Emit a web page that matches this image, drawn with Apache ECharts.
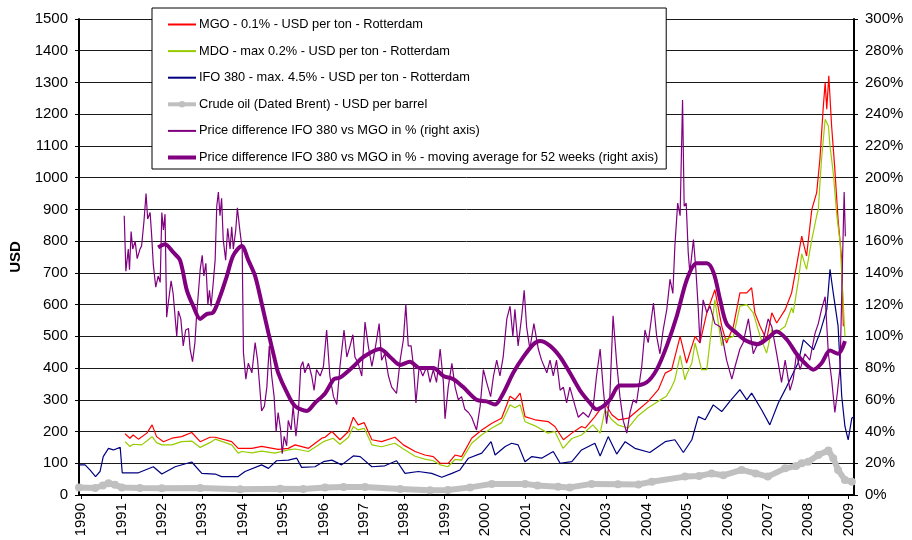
<!DOCTYPE html>
<html>
<head>
<meta charset="utf-8">
<script src="https://cdn.jsdelivr.net/npm/echarts@6/dist/echarts.min.js"></script>
<style>
  html, body { margin: 0; padding: 0; background: #fff; }
  #chart { width: 912px; height: 540px; }
</style>
</head>
<body>
<div id="chart"></div>
<script>
// year ticks on the x axis
const yearTicks = [1990, 1991, 1992, 1993, 1994, 1995, 1996, 1997, 1998, 1999,
  2000, 2001, 2002, 2003, 2004, 2005, 2006, 2007, 2008, 2009]

// MGO - 0.1% - USD per ton
const mgoYears = [1991.09, 1991.21, 1991.29, 1991.42, 1991.63, 1991.76, 1991.87, 1992.04, 1992.25, 1992.49,
  1992.74, 1992.95, 1993.19, 1993.32, 1993.73, 1993.89, 1994.23, 1994.47, 1994.88, 1995.13,
  1995.30, 1995.63, 1995.96, 1996.04, 1996.21, 1996.41, 1996.62, 1996.74, 1996.86, 1997.01,
  1997.20, 1997.44, 1997.77, 1997.98, 1998.27, 1998.51, 1998.72, 1998.89, 1999.09, 1999.26,
  1999.42, 1999.67, 1999.92, 2000.17, 2000.41, 2000.62, 2000.74, 2000.87, 2000.99, 2001.24,
  2001.57, 2001.73, 2001.94, 2002.15, 2002.39, 2002.48, 2002.72, 2002.97, 2003.14, 2003.30,
  2003.55, 2003.79, 2004.04, 2004.29, 2004.46, 2004.62, 2004.83, 2004.99, 2005.20, 2005.32,
  2005.49, 2005.69, 2005.86, 2005.98, 2006.15, 2006.31, 2006.48, 2006.60, 2006.68, 2006.81,
  2006.97, 2007.10, 2007.22, 2007.43, 2007.59, 2007.71, 2007.84, 2007.96, 2008.09, 2008.21,
  2008.29, 2008.37, 2008.42, 2008.46, 2008.51, 2008.58, 2008.66, 2008.74, 2008.83, 2008.87]
const mgoValues = [193, 179, 189, 176, 195, 221, 184, 168, 179, 184,
  197, 168, 182, 182, 168, 147, 147, 153, 144, 147,
  158, 147, 179, 182, 200, 174, 200, 245, 221, 228,
  174, 168, 182, 158, 137, 126, 121, 100, 100, 126,
  121, 179, 205, 226, 242, 311, 300, 321, 247, 237,
  231, 216, 174, 195, 216, 211, 247, 290, 253, 237,
  242, 268, 295, 332, 384, 395, 500, 416, 500, 479,
  574, 647, 532, 479, 532, 637, 637, 653, 574, 532,
  489, 574, 542, 584, 637, 721, 816, 753, 900, 953,
  1058, 1216, 1300, 1216, 1321, 1163, 1026, 868, 742, 532]

// MDO - max 0.2% - USD per ton
const mdoYears = [1991.09, 1991.21, 1991.29, 1991.50, 1991.63, 1991.76, 1991.87, 1992.00, 1992.25, 1992.49,
  1992.74, 1992.95, 1993.19, 1993.32, 1993.73, 1993.89, 1993.98, 1994.23, 1994.47, 1994.80,
  1995.13, 1995.30, 1995.63, 1996.00, 1996.24, 1996.41, 1996.62, 1996.74, 1996.86, 1997.01,
  1997.20, 1997.44, 1997.77, 1997.98, 1998.27, 1998.51, 1998.72, 1998.89, 1999.08, 1999.26,
  1999.42, 1999.67, 1999.92, 2000.17, 2000.41, 2000.62, 2000.74, 2000.87, 2000.99, 2001.24,
  2001.56, 2001.73, 2001.93, 2002.15, 2002.39, 2002.67, 2002.85, 2002.97, 2003.14, 2003.30,
  2003.54, 2003.79, 2004.03, 2004.28, 2004.49, 2004.62, 2004.70, 2004.83, 2004.95, 2004.99,
  2005.12, 2005.20, 2005.36, 2005.49, 2005.69, 2005.86, 2005.90, 2006.15, 2006.31, 2006.48,
  2006.64, 2006.81, 2006.97, 2007.10, 2007.22, 2007.43, 2007.59, 2007.63, 2007.76, 2007.84,
  2007.96, 2008.09, 2008.21, 2008.25, 2008.33, 2008.42, 2008.50, 2008.54, 2008.62, 2008.71,
  2008.79, 2008.91]
const mdoValues = [168, 153, 160, 158, 170, 184, 165, 158, 158, 168,
  170, 150, 165, 176, 158, 132, 137, 133, 138, 132,
  142, 145, 137, 168, 179, 160, 182, 216, 205, 210,
  158, 152, 163, 145, 122, 113, 108, 95, 89, 112,
  110, 163, 190, 211, 228, 284, 275, 284, 231, 218,
  195, 200, 147, 178, 189, 221, 195, 268, 237, 220,
  211, 250, 274, 295, 311, 340, 363, 440, 363, 380,
  416, 479, 395, 395, 616, 470, 489, 500, 595, 600,
  574, 500, 447, 520, 511, 532, 590, 574, 679, 760,
  711, 805, 880, 900, 1058, 1184, 1163, 1100, 1016, 879,
  795, 500]

// IFO 380 - max. 4.5% - USD per ton
const ifoYears = [1989.95, 1990.10, 1990.22, 1990.36, 1990.47, 1990.55, 1990.68, 1990.80, 1990.97, 1991.02,
  1991.42, 1991.79, 1992.00, 1992.33, 1992.74, 1992.99, 1993.32, 1993.48, 1993.89, 1994.06,
  1994.47, 1994.64, 1994.84, 1995.13, 1995.34, 1995.46, 1995.79, 1996.00, 1996.21, 1996.45,
  1996.74, 1996.91, 1997.20, 1997.52, 1997.81, 1998.02, 1998.35, 1998.68, 1998.93, 1999.18,
  1999.38, 1999.59, 1999.92, 2000.15, 2000.25, 2000.50, 2000.66, 2000.82, 2000.99, 2001.16,
  2001.40, 2001.69, 2001.86, 2002.15, 2002.39, 2002.72, 2002.85, 2003.05, 2003.26, 2003.47,
  2003.71, 2004.08, 2004.46, 2004.70, 2004.91, 2005.12, 2005.28, 2005.45, 2005.65, 2005.86,
  2006.06, 2006.31, 2006.48, 2006.60, 2006.85, 2007.05, 2007.26, 2007.43, 2007.59, 2007.75,
  2007.88, 2008.13, 2008.29, 2008.46, 2008.54, 2008.62, 2008.74, 2008.83, 2008.91, 2008.99,
  2009.08, 2009.13]
const ifoValues = [95, 95, 79, 58, 74, 121, 147, 142, 150, 70,
  70, 89, 66, 89, 104, 68, 66, 58, 58, 74,
  95, 84, 108, 110, 116, 87, 89, 105, 110, 95,
  123, 121, 89, 92, 108, 68, 74, 68, 56, 68,
  79, 116, 132, 168, 126, 153, 163, 158, 105, 121,
  116, 137, 100, 105, 142, 163, 123, 184, 129, 168,
  147, 134, 168, 174, 134, 174, 247, 237, 284, 263,
  295, 332, 300, 321, 268, 221, 290, 332, 374, 416,
  489, 458, 511, 584, 711, 637, 532, 311, 216, 174,
  242, 247]

// Crude oil (Dated Brent) - USD per barrel
const crudeYears = [1989.95, 1990.35, 1990.54, 1990.68, 1990.84, 1991.01, 1991.46, 1992.0, 1992.95, 1993.94,
  1994.93, 1995.5, 1996.04, 1996.5, 1997.03, 1997.90, 1998.64, 1999.08, 1999.63, 2000.17,
  2000.99, 2001.3, 2001.81, 2002.1, 2002.64, 2003.29, 2003.8, 2004.13, 2004.95, 2005.3,
  2005.61, 2005.9, 2006.35, 2006.7, 2007.00, 2007.43, 2007.7, 2007.84, 2008.0, 2008.25,
  2008.50, 2008.62, 2008.74, 2008.91, 2009.08]
const crudeValues = [24, 22, 30, 37, 32, 24, 22, 21, 22, 18,
  20, 19, 24, 25, 25, 19, 15, 16, 24, 35,
  35, 30, 26, 24, 35, 34, 33, 42, 58, 60,
  68, 62, 79, 68, 58, 84, 91, 100, 105, 126,
  140, 116, 79, 47, 42]

// Price difference IFO 380 vs MGO in % (right axis)
const diffYears = [1991.07, 1991.11, 1991.17, 1991.20, 1991.24, 1991.28, 1991.34, 1991.39, 1991.46, 1991.50,
  1991.56, 1991.61, 1991.65, 1991.71, 1991.75, 1991.79, 1991.85, 1991.91, 1991.96, 1992.00,
  1992.04, 1992.08, 1992.12, 1992.16, 1992.23, 1992.28, 1992.37, 1992.41, 1992.47, 1992.53,
  1992.59, 1992.66, 1992.70, 1992.76, 1992.82, 1992.86, 1992.95, 1993.00, 1993.04, 1993.09,
  1993.14, 1993.18, 1993.22, 1993.27, 1993.32, 1993.36, 1993.40, 1993.44, 1993.48, 1993.52,
  1993.58, 1993.63, 1993.69, 1993.73, 1993.77, 1993.83, 1993.87, 1993.94, 1993.99, 1994.02,
  1994.08, 1994.14, 1994.23, 1994.31, 1994.37, 1994.43, 1994.47, 1994.54, 1994.60, 1994.66,
  1994.72, 1994.78, 1994.83, 1994.88, 1994.94, 1994.98, 1995.03, 1995.09, 1995.13, 1995.20,
  1995.25, 1995.32, 1995.38, 1995.44, 1995.49, 1995.54, 1995.63, 1995.71, 1995.77, 1995.83,
  1995.92, 1996.00, 1996.08, 1996.16, 1996.25, 1996.33, 1996.41, 1996.51, 1996.58, 1996.66,
  1996.73, 1996.78, 1996.86, 1996.95, 1997.03, 1997.11, 1997.20, 1997.28, 1997.38, 1997.44,
  1997.52, 1997.61, 1997.69, 1997.81, 1997.90, 1997.98, 1998.04, 1998.10, 1998.17, 1998.23,
  1998.29, 1998.37, 1998.46, 1998.56, 1998.64, 1998.72, 1998.80, 1998.89, 1998.97, 1999.01,
  1999.09, 1999.18, 1999.26, 1999.34, 1999.42, 1999.50, 1999.59, 1999.67, 1999.79, 1999.88,
  1999.96, 2000.04, 2000.14, 2000.21, 2000.29, 2000.37, 2000.45, 2000.54, 2000.62, 2000.69,
  2000.74, 2000.82, 2000.91, 2000.97, 2001.03, 2001.11, 2001.21, 2001.32, 2001.40, 2001.53,
  2001.61, 2001.69, 2001.77, 2001.86, 2001.94, 2002.02, 2002.10, 2002.23, 2002.31, 2002.43,
  2002.56, 2002.68, 2002.76, 2002.85, 2002.93, 2003.01, 2003.09, 2003.17, 2003.26, 2003.34,
  2003.42, 2003.51, 2003.59, 2003.67, 2003.75, 2003.88, 2003.96, 2004.04, 2004.17, 2004.25,
  2004.33, 2004.41, 2004.50, 2004.58, 2004.65, 2004.70, 2004.77, 2004.83, 2004.89, 2004.93,
  2004.98, 2005.03, 2005.07, 2005.16, 2005.22, 2005.28, 2005.32, 2005.40, 2005.49, 2005.57,
  2005.69, 2005.82, 2005.90, 2005.98, 2006.11, 2006.19, 2006.31, 2006.39, 2006.52, 2006.64,
  2006.76, 2006.89, 2007.01, 2007.10, 2007.22, 2007.34, 2007.43, 2007.55, 2007.63, 2007.71,
  2007.80, 2007.92, 2008.04, 2008.17, 2008.25, 2008.33, 2008.42, 2008.50, 2008.58, 2008.66,
  2008.72, 2008.79, 2008.85, 2008.89, 2008.92]
const diffValues = [176, 141, 155, 142, 166, 155, 160, 149, 155, 157,
  173, 190, 174, 178, 163, 145, 131, 138, 134, 178,
  167, 177, 112, 121, 135, 127, 100, 116, 111, 94,
  104, 105, 92, 84, 96, 113, 142, 151, 138, 146,
  120, 129, 119, 133, 148, 182, 191, 176, 187, 161,
  148, 168, 155, 169, 155, 167, 181, 165, 155, 90,
  73, 83, 77, 96, 85, 66, 53, 56, 68, 94,
  75, 62, 40, 52, 41, 26, 37, 31, 47, 41,
  56, 37, 52, 81, 84, 77, 83, 75, 66, 79,
  75, 81, 104, 75, 62, 57, 81, 104, 87, 94,
  101, 87, 83, 75, 109, 94, 81, 92, 108, 85,
  89, 75, 68, 64, 85, 98, 120, 94, 94, 81,
  58, 81, 75, 81, 71, 79, 71, 92, 71, 48,
  68, 83, 68, 60, 62, 54, 52, 49, 41, 56,
  79, 71, 62, 75, 85, 75, 87, 111, 119, 100,
  117, 94, 113, 129, 106, 92, 108, 92, 85, 77,
  85, 75, 85, 66, 68, 58, 68, 56, 49, 52,
  49, 56, 75, 92, 66, 45, 62, 113, 83, 62,
  47, 39, 52, 60, 58, 81, 104, 96, 121, 100,
  89, 104, 117, 136, 127, 157, 184, 176, 249, 182,
  184, 153, 140, 161, 142, 117, 96, 123, 115, 119,
  108, 106, 96, 85, 73, 81, 92, 96, 111, 89,
  96, 98, 111, 106, 89, 71, 85, 66, 73, 89,
  79, 89, 85, 102, 108, 117, 125, 89, 73, 52,
  64, 81, 148, 191, 163]

// Price difference IFO 380 vs MGO in % - moving average for 52 weeks (right axis)
const avgYears = [1991.91, 1992.08, 1992.28, 1992.45, 1992.62, 1992.78, 1992.95, 1993.11, 1993.27, 1993.44,
  1993.61, 1993.77, 1993.98, 1994.14, 1994.31, 1994.47, 1994.64, 1994.80, 1994.88, 1995.09,
  1995.30, 1995.59, 1995.79, 1996.04, 1996.26, 1996.41, 1996.74, 1996.99, 1997.40, 1997.65,
  1997.90, 1998.14, 1998.39, 1998.72, 1998.97, 1999.22, 1999.46, 1999.79, 2000.04, 2000.25,
  2000.45, 2000.70, 2000.95, 2001.20, 2001.36, 2001.61, 2001.86, 2002.10, 2002.35, 2002.60,
  2002.76, 2002.93, 2003.09, 2003.34, 2003.67, 2004.00, 2004.25, 2004.50, 2004.75, 2005.00,
  2005.24, 2005.49, 2005.66, 2005.82, 2005.98, 2006.23, 2006.48, 2006.76, 2007.01, 2007.22,
  2007.47, 2007.71, 2007.92, 2008.13, 2008.33, 2008.54, 2008.74, 2008.91]
const avgValues = [156, 158, 153, 148, 129, 119, 111, 114, 115, 125,
  138, 151, 157, 148, 138, 121, 102, 85, 77, 65,
  56, 53, 58, 64, 73, 74, 81, 87, 92, 87,
  82, 84, 80, 80, 75, 73, 68, 60, 59, 57,
  64, 77, 87, 95, 97, 94, 87, 77, 66, 58,
  54, 56, 60, 69, 69, 71, 79, 94, 113, 136,
  146, 146, 140, 123, 108, 102, 97, 95, 99, 103,
  98, 89, 83, 79, 83, 91, 89, 97]

const font = "'Liberation Sans', Arial, sans-serif"

const names = [
  'MGO - 0.1% - USD per ton - Rotterdam',
  'MDO - max 0.2% - USD per ton - Rotterdam',
  'IFO 380 - max. 4.5% - USD per ton - Rotterdam',
  'Crude oil (Dated Brent) - USD per barrel',
  'Price difference IFO 380 vs MGO in % (right axis)',
  'Price difference IFO 380 vs MGO in % - moving average for 52 weeks (right axis)',
]

function pairs(xs, ys) {
  return xs.map((x, i) => [x, ys[i]])
}

const chart = echarts.init(document.getElementById('chart'))

const option = {
  backgroundColor: '#fff',
  animation: false,
  textStyle: { fontFamily: font, color: '#000' },
  grid: { left: 79, right: 58, top: 19, bottom: 45 },
  legend: {
    orient: 'vertical',
    left: 152,
    top: 8,
    padding: [10, 8, 5, 14],
    itemGap: 13.6,
    itemWidth: 28,
    itemHeight: 8,
    backgroundColor: '#fff',
    borderColor: '#000',
    borderWidth: 1,
    // hide the symbol part of the legend icons, except for crude oil
    itemStyle: { opacity: 0 },
    textStyle: { fontFamily: font, fontSize: 12.8, color: '#000', padding: [0, 0, 0, -2] },
    data: [
      names[0],
      names[1],
      names[2],
      { name: names[3], itemStyle: { opacity: 1, color: '#c0c0c0' }, lineStyle: { width: 4, color: '#c0c0c0' } },
      names[4],
      { name: names[5], lineStyle: { width: 4, color: '#800080' } },
    ],
  },
  xAxis: {
    type: 'value',
    min: 1989.95,
    max: 2009.134,
    splitLine: { show: false },
    axisLine: { show: true, onZero: false, lineStyle: { color: '#000', width: 2 } },
    axisTick: { show: true, customValues: yearTicks, length: 4, lineStyle: { color: '#000' } },
    axisLabel: {
      customValues: yearTicks,
      rotate: 90,
      margin: 8,
      fontSize: 15,
      fontFamily: font,
      color: '#000',
      formatter: (v) => String(Math.round(v)),
    },
  },
  yAxis: [
    {
      type: 'value',
      min: 0,
      max: 1500,
      interval: 100,
      name: 'USD',
      nameLocation: 'middle',
      nameRotate: 90,
      nameGap: 52,
      nameTextStyle: { fontFamily: font, fontSize: 15, fontWeight: 'bold', color: '#000' },
      axisLine: { show: true, lineStyle: { color: '#000', width: 2 } },
      axisTick: { show: true, length: 4, lineStyle: { color: '#000' } },
      axisLabel: { margin: 11, fontSize: 15, fontFamily: font, color: '#000', formatter: (v) => String(v) },
      splitLine: { show: true, lineStyle: { color: '#1a1a1a', width: 1 } },
    },
    {
      type: 'value',
      min: 0,
      max: 300,
      interval: 20,
      position: 'right',
      axisLine: { show: true, lineStyle: { color: '#000', width: 2 } },
      axisTick: { show: true, length: 4, lineStyle: { color: '#000' } },
      axisLabel: { margin: 11, fontSize: 15, fontFamily: font, color: '#000', formatter: '{value}%' },
      splitLine: { show: false },
    },
  ],
  series: [
    {
      name: names[0],
      type: 'line',
      symbol: 'none',
      color: '#ff0000',
      lineStyle: { width: 1.2, color: '#ff0000' },
      data: pairs(mgoYears, mgoValues),
    },
    {
      name: names[1],
      type: 'line',
      symbol: 'none',
      color: '#99cc00',
      lineStyle: { width: 1.2, color: '#99cc00' },
      data: pairs(mdoYears, mdoValues),
    },
    {
      name: names[2],
      type: 'line',
      symbol: 'none',
      color: '#000080',
      lineStyle: { width: 1.2, color: '#000080' },
      data: pairs(ifoYears, ifoValues),
    },
    {
      name: names[3],
      type: 'line',
      symbol: 'circle',
      symbolSize: 8,
      color: '#c0c0c0',
      itemStyle: { color: '#c0c0c0' },
      lineStyle: { width: 6, color: '#c0c0c0' },
      data: pairs(crudeYears, crudeValues),
    },
    {
      name: names[4],
      type: 'line',
      yAxisIndex: 1,
      symbol: 'none',
      color: '#800080',
      lineStyle: { width: 1.2, color: '#800080' },
      data: pairs(diffYears, diffValues),
    },
    {
      name: names[5],
      type: 'line',
      yAxisIndex: 1,
      symbol: 'none',
      smooth: 0.3,
      color: '#800080',
      lineStyle: { width: 4, color: '#800080' },
      data: pairs(avgYears, avgValues),
    },
  ],
}

chart.setOption(option)
window.addEventListener('resize', () => {
  chart.resize()
})
</script>
</body>
</html>
